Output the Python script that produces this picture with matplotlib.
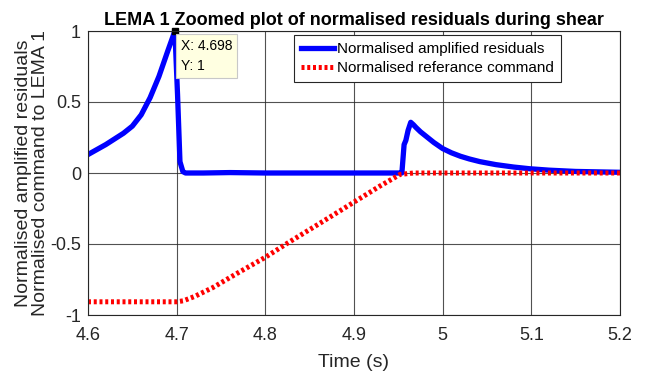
import matplotlib
matplotlib.use("Agg")
import matplotlib.pyplot as plt
import numpy as np

plt.rcParams['font.family'] = ['Liberation Sans', 'DejaVu Sans']

# residuals
t_res = [4.600, 4.610, 4.620, 4.630, 4.640, 4.650, 4.660, 4.670, 4.680, 4.690, 4.698,
         4.701, 4.7037, 4.707, 4.710, 4.730, 4.760, 4.800, 4.850, 4.900, 4.950,
         4.954, 4.9565, 4.9585, 4.961, 4.964, 4.967, 4.970, 4.975, 4.980, 4.990,
         5.000, 5.010, 5.020, 5.030, 5.042, 5.060, 5.080, 5.098, 5.120, 5.150, 5.200]
res = [0.13, 0.165, 0.20, 0.24, 0.28, 0.33, 0.41, 0.53, 0.68, 0.86, 1.0,
       0.55, 0.08, 0.01, 0.0, 0.0, 0.003, 0.0, 0.0, 0.0, 0.0,
       0.0, 0.20, 0.23, 0.30, 0.357, 0.34, 0.32, 0.29, 0.265, 0.215,
       0.172, 0.142, 0.118, 0.099, 0.080, 0.059, 0.042, 0.030, 0.020, 0.011, 0.005]

# reference command
t_cmd = [4.600, 4.700, 4.7075, 4.720, 4.741, 4.770, 4.7996, 4.826, 4.860, 4.899,
         4.929, 4.952, 4.967, 5.000, 5.200]
cmd = [-0.907, -0.907, -0.90, -0.87, -0.806, -0.70, -0.595, -0.49, -0.36, -0.209,
       -0.093, -0.01, 0.0, 0.0, 0.0]

fig = plt.figure(figsize=(6.45, 3.77), dpi=100)
ax = fig.add_axes([88/645, 1-315/377, (620-88)/645, (315-31)/377])

ax.plot(t_res, res, color='#0000ff', lw=3.8, label='Normalised amplified residuals')
ax.plot(t_cmd, cmd, color='#ff0000', lw=3.6, ls=(0, (0.6, 0.55)), label='Normalised referance command')

ax.set_xlim(4.6, 5.2)
ax.set_ylim(-1, 1)
ax.set_xticks([4.6, 4.7, 4.8, 4.9, 5.0, 5.1, 5.2])
ax.set_xticklabels(['4.6', '4.7', '4.8', '4.9', '5', '5.1', '5.2'])
ax.set_yticks([-1, -0.5, 0, 0.5, 1])
ax.set_yticklabels(['-1', '-0.5', '0', '0.5', '1'])
ax.tick_params(labelsize=13, direction='in', length=0, colors='#262626')
ax.tick_params(axis='x', pad=9)
ax.tick_params(axis='y', pad=5)
ax.grid(True, color='#262626', lw=0.8, alpha=0.8)
for s in ax.spines.values():
    s.set_color('#262626')

ax.set_title('LEMA 1 Zoomed plot of normalised residuals during shear',
             fontsize=13, fontweight='bold', pad=4)
ax.set_xlabel('Time (s)', fontsize=14, color='#262626', labelpad=7)
ax.set_ylabel('Normalised amplified residuals\nNormalised command to LEMA 1',
              fontsize=14, color='#262626', labelpad=1, linespacing=1.0)

leg = ax.legend(loc='upper left', bbox_to_anchor=(0.387, 0.986), borderaxespad=0,
                fontsize=11, fancybox=False, edgecolor='#262626', framealpha=1,
                handlelength=2.2, handletextpad=0.2, borderpad=0.45, labelspacing=0.35)
leg.get_frame().set_linewidth(0.8)

# datatip at the peak
ax.plot([4.698], [1.0], marker='s', color='k', ms=5, clip_on=False)
ax.annotate('X: 4.698\nY: 1', xy=(4.698, 1.0), xytext=(4.7045, 0.945),
            fontsize=10, va='top', ha='left', linespacing=1.6,
            bbox=dict(boxstyle='square,pad=0.35', fc='#ffffe1', ec='#c8c8c8', lw=0.8))

fig.savefig('out.png', dpi=100)
